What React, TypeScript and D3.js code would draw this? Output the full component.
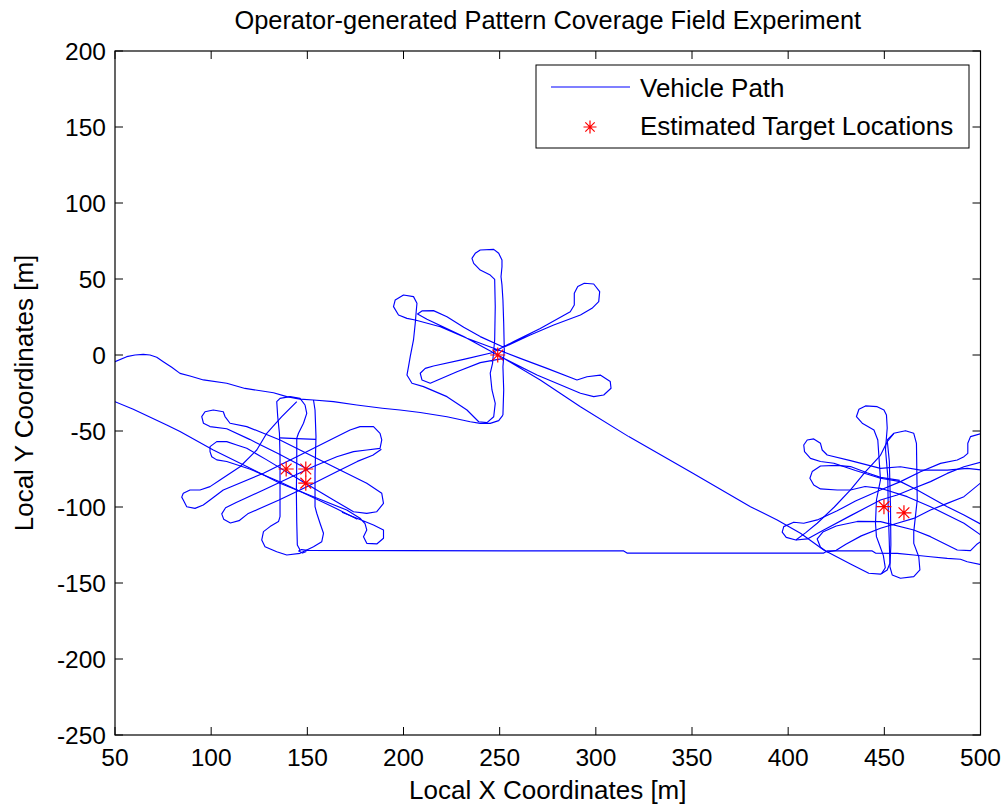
import React from 'react';
import * as d3 from 'd3';

type P = [number, number];

const xTicks = [50, 100, 150, 200, 250, 300, 350, 400, 450, 500];
const yTicks = [-250, -200, -150, -100, -50, 0, 50, 100, 150, 200];

// Vehicle path pieces (local coordinates, metres)
const entryPath: P[] = [[47,-7],[50,-4.4],[56.1,-1.1],[60.4,0],[64.7,0.4],[68.2,0],[71.7,-1.5],[75.1,-4.4],[79.5,-8.1],[83.8,-12.1],[89,-13.8],[96,-16.4],[108.1,-18.6],[117.6,-22],[132.4,-24.8],[139.3,-27.4],[146.2,-29],[153.2,-29.6],[163.6,-30.7],[175.7,-32.9],[189,-35],[198.2,-36.2],[208.7,-37.8],[222.6,-40.6],[234.7,-43.9],[239.9,-45],[245.1,-45],[249.5,-43.2],[251.7,-39.5]];

const middleLoop: P[] = [[251.7,-39.5],[252.1,-23],[251.7,-7.7],[252.4,3.3],[252.1,20.8],[251.7,36.2],[251.2,46.1],[250.7,51.5],[251.2,58.1],[251.2,62.5],[249.5,66.9],[246.9,69.5],[239.9,69.1],[237.3,66.9],[235.6,63.6],[236.5,60.3],[239.9,55.9],[245.1,52.6],[247.4,49.8],[247.7,31.8],[247.4,9.9],[246.3,-5.5],[245.1,-12],[246,-23],[247.7,-31.8],[246.9,-40.6],[243.4,-44.5],[239.1,-43.9],[233,-36.2],[222.6,-27.4],[210.4,-20.8],[204.4,-18.6],[201.8,-13.2],[202.6,-7.7],[203.5,-1.1],[205.2,9.9],[206.1,20.8],[206.6,28.5],[207,34],[205.2,38.4],[200,39.5],[195.7,36.2],[194.8,31.8],[197.4,26.3],[201.8,24.1],[206.1,23],[219.1,18.6],[233,11],[246.9,4.4],[260.7,-2.2],[274.6,-8.8],[290.2,-16.4],[295.4,-14.3],[302.3,-13.2],[307.5,-17.5],[307.9,-21.9],[304.1,-26.3],[298.9,-27.4],[292,-25.2],[269.4,-13.2],[252.1,-2.2],[239.9,-5],[227.8,-11],[213.9,-18.6],[209.6,-16.4],[208.7,-12],[211.3,-8.8],[215.6,-7.2],[231.3,-2.9],[246,1.5],[257.3,8.8],[271.1,17.5],[286.7,28.5],[288.8,32.9],[288.8,40.6],[290.6,45],[294,47.2],[298.9,46.7],[302,41.7],[301.5,35.1],[298,30.7],[292,26.3],[278.1,19.7],[265.9,13.2],[252.1,5.1],[239.9,12.1],[231.3,18.2],[222.6,25.2],[215.6,29.2],[209.6,29],[207.3,27],[212.2,23.5],[231.3,12.1],[252.1,-2.2],[271.1,-16.4],[292,-34],[317.1,-53.7]];

const transitPath: P[] = [[317.1,-53.7],[350,-77.5],[380.4,-99.8],[394.3,-108.6],[406.4,-117.3],[418.5,-128.3],[432.4,-137.5],[441.9,-143.6],[448,-144.2],[451.5,-141.4],[452.9,-137]];

const rightV1: P[] = [[452.9,-137],[452.5,-120],[452,-100],[451.8,-80],[450.6,-62],[451.5,-48],[451.1,-39.4],[449.8,-36.2],[446.3,-34],[440.2,-33.5],[436.8,-35.7],[435.5,-40.5],[438.5,-44.9],[444.6,-49.3],[446.6,-55.9],[447.2,-66.9],[448,-82.2],[445.9,-95.4],[445.4,-110.7],[445.9,-119.5],[447.5,-125],[449.5,-132],[450.5,-140],[448.5,-144]];

const rightV2: P[] = [[452.9,-139.3],[454.1,-144.7],[458.4,-146.9],[465.3,-145.8],[468.5,-141.4],[467.9,-132.7],[465.3,-123.9],[465.3,-116.2],[467.1,-95.4],[466.7,-58.1],[465.3,-51.5],[461,-49.8],[454.9,-51.5],[451.5,-55.9],[452.6,-70],[453.2,-100],[453.4,-125],[452.9,-139.3]];

const rightArmA: P[] = [[506,-51],[500.9,-51.5],[494.8,-53.7],[493.4,-58.1],[493.4,-64.7],[491.4,-66.9],[487.9,-69.1],[479.2,-71.3],[468.8,-76.8],[458.4,-83.3],[448,-88.8],[435,-96],[425.5,-102.5],[415.1,-108.5],[408.1,-110.7],[402.9,-110],[397.7,-112.9],[396.9,-116.5],[399,-120],[404,-121.7],[410,-121],[418,-115.5],[432,-106],[448,-95.4],[456.7,-92.1],[465.3,-87.7],[474,-83.3],[482.7,-77.9],[491.4,-73.5],[500.9,-70.2],[506,-69]];

const rightArmNW: P[] = [[506,-115],[500.9,-111.8],[491.4,-105.3],[482.7,-99.8],[467.1,-88.8],[458.4,-83.3],[448,-81.1],[435,-76],[423.8,-71.2],[416.8,-70.1],[411.6,-68],[408.5,-63.6],[408.1,-59.2],[409.9,-55.9],[413.3,-55.2],[416.8,-58.1],[417.7,-62.5],[420.3,-65.8],[432.4,-69.5],[448,-74.6],[458.4,-73.5],[468.8,-75.7],[482.7,-75.7],[493.1,-74.6],[500.9,-75.7],[506,-76]];

const rightArmW: P[] = [[506,-121.5],[500.9,-119.1],[491.4,-110.7],[474,-99.8],[461.9,-93.2],[448,-87.7],[440,-86.5],[432.4,-88.8],[425.5,-88.8],[416.8,-88.1],[413.3,-85.5],[411.3,-81.1],[412.5,-76.7],[416.8,-73],[425.5,-72.6],[432.4,-73.4],[441,-77.5],[448,-80.5],[458,-82.5]];

const rightArmS: P[] = [[506,-84.5],[500.9,-83.3],[491.4,-93.2],[482.7,-97.6],[474,-102],[465.3,-107.5],[456.7,-110.7],[448,-114],[438,-119],[430,-124.5],[425,-128.5],[420.3,-129.6],[416.8,-126.5],[415.1,-121],[418,-116.5],[425,-112.5],[436,-109.5],[448,-109.6],[465.3,-115.1],[474,-119.5],[487.9,-128.3],[494.8,-128.7],[498.3,-124.3],[500.9,-122.1],[506,-120]];

const rightSteep: P[] = [[455,-51.5],[451.5,-57],[448,-66],[440,-77],[432.4,-88.8],[424,-100],[415.1,-110.7],[409,-117],[404,-121.7]];

const returnPath: P[] = [[506,-139],[500.9,-138.1],[493.1,-136],[489.6,-134.4],[482.7,-133.8],[474,-132.7],[465.3,-131.6],[456.7,-130.5],[445.4,-130.3],[443.7,-128.9],[420.3,-128.9],[418.5,-130.3],[316.2,-130.3],[314.5,-128.9],[281.5,-128.9],[200,-128.7],[150,-128.5],[147,-128],[145.5,-129],[147.5,-130.3],[149.5,-129.3]];

const leftVertical: P[] = [[146.2,-128.3],[144.8,-125],[144.5,-110],[144.3,-90],[144.5,-70],[144.5,-54.8],[145.4,-51.5],[148,-44.9],[149.7,-38.4],[148.8,-32.9],[146.2,-28.5],[141,-27.4],[135.8,-28.5],[134.1,-30.7],[134.6,-40.5],[135.5,-51.5],[135.8,-66.9],[135.8,-88.8],[135.8,-106.3],[135,-109.6],[130.6,-112.9],[127.2,-116.2],[126.3,-121.7],[128,-126.1],[134.1,-129.4],[139.3,-131.6],[146.2,-130.5],[153.2,-126.1],[157.5,-122.8],[158.4,-117.3],[156.6,-110.7],[154.9,-104.1],[154,-99.8],[154,-77.8],[154.5,-53.7],[154,-36.2],[153.2,-29.6]];

const leftCross: P[] = [[135.8,-54.5],[144.5,-55],[154.5,-55.5]];

const leftNESW: P[] = [[144.5,-30.7],[136.7,-40.6],[128.9,-51.5],[123.7,-62.5],[115,-73.5],[104.6,-82.2],[99.4,-86.6],[94.2,-88.8],[89,-88.8],[85.5,-91],[84.7,-93.5],[85.5,-95.4],[87.3,-99.8],[91.6,-100.9],[95.9,-98.7],[99.4,-95.4],[106.3,-88.8],[127.2,-77.8],[144.5,-66.9],[161.8,-55.9],[172.2,-49.3],[177.4,-47.1],[184.4,-47.1],[187.8,-51.5],[188.7,-55.9],[187.8,-61.4],[180.9,-62.5],[174,-63.6],[165.3,-66.9],[153.2,-73.4],[127.2,-88.8],[113,-97],[107.5,-100.5],[105.5,-104.5],[106.5,-108],[110,-110.5],[114.5,-109],[119,-104.5],[135,-95.5],[150,-86.5],[165,-77],[176,-70],[184,-66],[188.5,-62]];

const leftNWSE: P[] = [[150,-75],[135,-65],[120,-55.5],[108.1,-48.5],[99.4,-47.1],[96,-44.9],[95.1,-40.5],[96.8,-37.3],[101.1,-36.2],[106.3,-37.3],[107.2,-40.5],[109.8,-44.9],[118.5,-47.1],[127.2,-51.5],[135.8,-55.9],[146.2,-62.5],[163.6,-73.5],[180.9,-84.4],[188.7,-91],[189.6,-97.6],[186.1,-103.1],[180.9,-104.2],[174,-103.1],[163.6,-95.4],[146.2,-82.2],[128.9,-69],[118.5,-61.4],[113.3,-59.2],[108.1,-57],[102.9,-57],[99.4,-60.3],[99.4,-63.6],[100.3,-66.9],[102.9,-69],[108.1,-70.1],[120,-75],[135,-83],[150,-92],[165,-101],[176,-108]];

const exitPath: P[] = [[47,-29.5],[50,-30.7],[59.5,-35.7],[76.9,-46],[83.8,-50.4],[101.1,-62.5],[118.5,-73.4],[135.8,-84.4],[153.2,-93.2],[170.5,-102],[177.4,-107.4],[180,-111],[180.9,-115.1],[179.2,-119.5],[180.9,-123.9],[186.1,-124.3],[189.6,-120.6],[189.6,-115.1],[184.4,-111.8],[178,-108.5],[168,-103.5]];

const pathPieces: P[][] = [entryPath, middleLoop, transitPath, rightV1, rightV2, rightArmA, rightArmNW, rightArmW, rightArmS, rightSteep, returnPath, leftVertical, leftCross, leftNESW, leftNWSE, exitPath];

// Estimated target locations
const targetX = [139, 149.2, 149.2, 249, 449.8, 460.2];
const targetY = [-75, -75, -84.3, 0, -99.8, -103.8];

const FONT = '"Liberation Sans", Arial, Helvetica, sans-serif';

function Star({ cx, cy, r }: { cx: number; cy: number; r: number }) {
  const d = r * 0.72;
  return (
    <path
      d={`M${cx - r},${cy}L${cx + r},${cy}M${cx},${cy - r}L${cx},${cy + r}M${cx - d},${cy - d}L${cx + d},${cy + d}M${cx - d},${cy + d}L${cx + d},${cy - d}`}
      stroke="#ff0000"
      strokeWidth={1.2}
      fill="none"
    />
  );
}

export default function App() {
  const W = 1007, H = 807;
  const L = 115, R = 980.5, T = 51, B = 735;
  const x = d3.scaleLinear().domain([50, 500]).range([L, R]);
  const y = d3.scaleLinear().domain([-250, 200]).range([B, T]);
  const line = d3.line<P>().x((d) => x(d[0])).y((d) => y(d[1]));
  const tk = 8;

  return (
    <div style={{ position: 'absolute', left: 0, top: 0 }}>
      <svg width={W} height={H} style={{ display: 'block', background: '#fff' }} fontFamily={FONT}>
        <defs>
          <clipPath id="plotClip">
            <rect x={L} y={T} width={R - L} height={B - T} />
          </clipPath>
        </defs>
        <rect x={0} y={0} width={W} height={H} fill="#fff" />
        <text x={(L + R) / 2} y={29} textAnchor="middle" fontSize={25.4} fill="#000">
          Operator-generated Pattern Coverage Field Experiment
        </text>
        <g clipPath="url(#plotClip)">
          {pathPieces.map((pc, i) => (
            <path key={i} d={line(pc) || ''} fill="none" stroke="#0000ff" strokeWidth={1.15} strokeLinejoin="round" />
          ))}
          {targetX.map((tx, i) => (
            <Star key={i} cx={x(tx)} cy={y(targetY[i])} r={7.5} />
          ))}
        </g>
        <rect x={L} y={T} width={R - L} height={B - T} fill="none" stroke="#000" strokeWidth={1.2} />
        {xTicks.map((t) => (
          <g key={'x' + t}>
            <line x1={x(t)} x2={x(t)} y1={B} y2={B - tk} stroke="#000" />
            <line x1={x(t)} x2={x(t)} y1={T} y2={T + tk} stroke="#000" />
            <text x={x(t)} y={766} textAnchor="middle" fontSize={24.5} fill="#000">{t}</text>
          </g>
        ))}
        {yTicks.map((t) => (
          <g key={'y' + t}>
            <line x1={L} x2={L + tk} y1={y(t)} y2={y(t)} stroke="#000" />
            <line x1={R} x2={R - tk} y1={y(t)} y2={y(t)} stroke="#000" />
            <text x={106} y={y(t)} dy="0.35em" textAnchor="end" fontSize={24.5} fill="#000">{t}</text>
          </g>
        ))}
        <text x={(L + R) / 2} y={799} textAnchor="middle" fontSize={26} fill="#000">
          Local X Coordinates [m]
        </text>
        <text transform={`translate(33,${(T + B) / 2}) rotate(-90)`} textAnchor="middle" fontSize={26} fill="#000">
          Local Y Coordinates [m]
        </text>
        <g>
          <rect x={536} y={65} width={433} height={83} fill="#fff" stroke="#000" strokeWidth={1} />
          <line x1={551} x2={630} y1={87} y2={87} stroke="#0000ff" strokeWidth={1.15} />
          <text x={640} y={97} fontSize={26} fill="#000">Vehicle Path</text>
          <Star cx={590} cy={127} r={6.5} />
          <text x={640} y={135} fontSize={26} fill="#000">Estimated Target Locations</text>
        </g>
      </svg>
    </div>
  );
}
